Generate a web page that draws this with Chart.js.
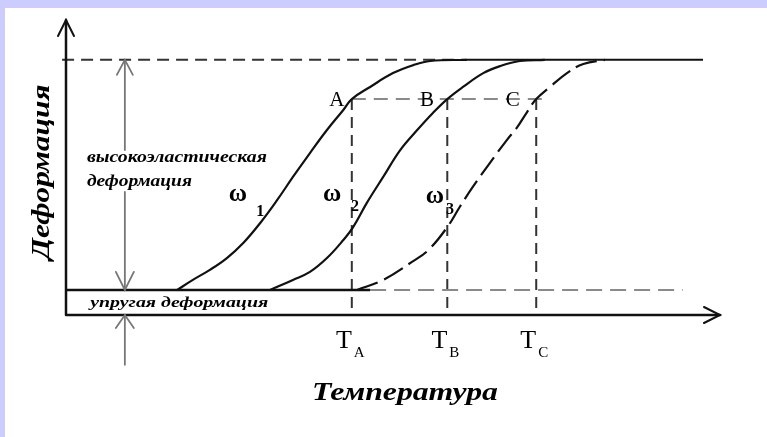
<!DOCTYPE html>
<html>
<head>
<meta charset="utf-8">
<title>Деформация — Температура</title>
<style>
  body { margin: 0; background: #ffffff; }
  .frame {
    width: 762px;
    height: 429px;
    border-top: 8px solid #ccccff;
    border-left: 5px solid #ccccff;
    background: #ffffff;
  }
  canvas { display: block; }
</style>
<script src="https://cdn.jsdelivr.net/npm/chart.js@4.4.1/dist/chart.umd.min.js"></script>
</head>
<body>
<div class="frame"><canvas id="chart" width="762" height="429"></canvas></div>
<script>
// deformation vs temperature, relative units (0..100 on both axes)
const w1T = [17.0, 19.4, 22.0, 24.6, 27.1, 29.7, 32.3, 34.7, 37.3, 39.9, 42.4, 43.7, 46.5, 50.0, 53.1, 55.7, 61.3];
const w1D = [8.5, 11.9, 15.3, 19.3, 24.4, 31.2, 39.0, 46.8, 54.9, 62.7, 69.5, 73.2, 77.3, 82.0, 84.7, 86.1, 86.5];

const w2T = [31.2, 34.7, 37.3, 39.9, 42.4, 43.9, 46.0, 48.5, 51.1, 53.7, 56.1, 58.3, 60.7, 63.8, 66.4, 69.4, 73.2];
const w2D = [8.5, 11.9, 14.6, 19.3, 25.4, 29.8, 38.0, 46.8, 55.9, 62.7, 68.5, 73.2, 77.3, 82.0, 84.4, 86.1, 86.5];

const w3T = [44.5, 48.5, 52.9, 55.4, 58.3, 60.2, 62.2, 64.8, 67.4, 69.0, 70.5, 71.9, 74.0, 76.6, 79.1, 82.4];
const w3D = [8.5, 11.9, 18.0, 22.0, 29.8, 36.6, 43.4, 51.5, 59.3, 63.7, 68.8, 73.2, 77.3, 82.0, 85.1, 86.5];

// levels: elastic part, high-elastic plateau, level of points A/B/C
const elasticLevel = 8.5;
const plateauLevel = 86.5;
const pointLevel = 73.2;

// temperatures T_A, T_B, T_C and their labels
const pointNames = ['A', 'B', 'C'];
const pointT = [43.7, 58.3, 71.9];
const pointLabelT = [41.4, 55.2, 68.3];

// curve labels ω1..ω3
const curveIdx = ['1', '2', '3'];
const curveLabelT = [26.3, 40.7, 56.4];
const curveLabelD = [40.7, 40.7, 40.0];
const curveSubT = [29.7, 44.2, 58.7];
const curveSubD = [34.9, 36.6, 35.6];

function pts(xs, ys) {
  return xs.map((x, i) => ({ x: x, y: ys[i] }));
}

function lineSet(data, color, dash, width) {
  return {
    data: data,
    showLine: true,
    borderColor: color,
    borderWidth: width || 2,
    borderDash: dash || [],
    pointRadius: 0,
    fill: false,
    clip: false
  };
}

function curveSet(xs, ys, dash) {
  const ds = lineSet(pts(xs, ys), '#111111', dash, 2.2);
  ds.tension = 0.4;
  return ds;
}

const datasets = [
  curveSet(w1T, w1D),
  curveSet(w2T, w2D),
  curveSet(w3T, w3D, [22, 7]),
  lineSet([{ x: -0.6, y: plateauLevel }, { x: w1T[w1T.length - 1], y: plateauLevel }], '#333333', [12, 7]),
  lineSet([{ x: w1T[w1T.length - 1], y: plateauLevel }, { x: 97.4, y: plateauLevel }], '#111111'),
  lineSet([{ x: 0, y: elasticLevel }, { x: 46.5, y: elasticLevel }], '#111111', [], 2.5),
  lineSet([{ x: 46.5, y: elasticLevel }, { x: 94.3, y: elasticLevel }], '#8a8a8a', [16, 8]),
  lineSet([{ x: pointT[0], y: pointLevel }, { x: 72.8, y: pointLevel }], '#8a8a8a', [14, 8])
];
pointT.forEach(t => {
  datasets.push(lineSet([{ x: t, y: pointLevel }, { x: t, y: 0 }], '#333333', [11, 7]));
});

// draws text stretched to a given width
function fitText(ctx, text, px, py, width, font, rotate) {
  ctx.save();
  ctx.translate(px, py);
  if (rotate) ctx.rotate(-Math.PI / 2);
  ctx.font = font;
  const m = ctx.measureText(text).width;
  ctx.scale(width / m, 1);
  ctx.fillText(text, rotate ? -m / 2 : 0, 0);
  ctx.restore();
}

function chevron(ctx, tx, ty, dx, dy, len, half) {
  // dx,dy: unit direction of the arrow
  const bx = tx - dx * len, by = ty - dy * len;
  ctx.beginPath();
  ctx.moveTo(bx - dy * half, by + dx * half);
  ctx.lineTo(tx, ty);
  ctx.lineTo(bx + dy * half, by - dx * half);
  ctx.stroke();
}

const decor = {
  id: 'decor',
  afterDatasetsDraw(chart) {
    const ctx = chart.ctx;
    const sx = chart.scales.x, sy = chart.scales.y;
    const X = v => sx.getPixelForValue(v);
    const Y = v => sy.getPixelForValue(v);

    // axes with arrows
    ctx.save();
    ctx.strokeStyle = '#111111';
    ctx.lineWidth = 2.5;
    ctx.lineCap = 'round';
    ctx.beginPath();
    ctx.moveTo(X(0), Y(0));
    ctx.lineTo(X(0), Y(100));
    ctx.moveTo(X(0), Y(0));
    ctx.lineTo(X(100), Y(0));
    ctx.stroke();
    ctx.lineWidth = 2;
    chevron(ctx, X(0), Y(100), 0, -1, 16, 8);
    chevron(ctx, X(100), Y(0), 1, 0, 16, 8);

    // double arrow: high-elastic deformation
    const ax = X(9.0);
    ctx.strokeStyle = '#777777';
    ctx.lineWidth = 1.8;
    ctx.beginPath();
    ctx.moveTo(ax, Y(plateauLevel));
    ctx.lineTo(ax, Y(55.9));
    ctx.moveTo(ax, Y(41.7));
    ctx.lineTo(ax, Y(elasticLevel));
    ctx.stroke();
    chevron(ctx, ax, Y(plateauLevel), 0, -1, 15, 8);
    chevron(ctx, ax, Y(elasticLevel), 0, 1, 18, 9);
    // arrow from below: elastic deformation
    ctx.beginPath();
    ctx.moveTo(ax, Y(0));
    ctx.lineTo(ax, Y(-16.9));
    ctx.stroke();
    chevron(ctx, ax, Y(0), 0, -1, 13, 9);
    ctx.restore();

    // axis titles
    ctx.save();
    ctx.fillStyle = '#000000';
    ctx.textBaseline = 'middle';
    ctx.textAlign = 'left';
    const bi = 'italic bold ';
    fitText(ctx, 'Деформация', X(-3.7), Y(48.5), 175, bi + '26px "Liberation Serif"', true);
    fitText(ctx, 'Температура', X(37.6), Y(-26.4), 186, bi + '26px "Liberation Serif"');

    fitText(ctx, 'высокоэластическая', X(3.2), Y(53.2), 180, bi + '17px "Liberation Serif"');
    fitText(ctx, 'деформация', X(3.2), Y(45.1), 105, bi + '17px "Liberation Serif"');
    fitText(ctx, 'упругая деформация', X(3.7), Y(4.1), 178, bi + '15px "Liberation Serif"');

    // A, B, C
    ctx.textAlign = 'center';
    ctx.font = '21px "Liberation Serif"';
    pointNames.forEach((n, i) => ctx.fillText(n, X(pointLabelT[i]), Y(pointLevel) + 1));

    // T_A, T_B, T_C under the axis
    ctx.textBaseline = 'alphabetic';
    pointNames.forEach((n, i) => {
      const px = X(pointT[i]);
      ctx.textAlign = 'right';
      ctx.font = '26px "Liberation Serif"';
      ctx.fillText('T', px, Y(-11.2));
      ctx.textAlign = 'left';
      ctx.font = '15px "Liberation Serif"';
      ctx.fillText(n, px + 2, Y(-14.2));
    });

    // ω labels
    ctx.textBaseline = 'middle';
    curveIdx.forEach((n, i) => {
      ctx.textAlign = 'center';
      ctx.font = 'bold 25px "Liberation Serif"';
      ctx.fillText('ω', X(curveLabelT[i]), Y(curveLabelD[i]));
      ctx.font = 'bold 16px "Liberation Serif"';
      ctx.fillText(n, X(curveSubT[i]), Y(curveSubD[i]));
    });
    ctx.restore();
  }
};

new Chart(document.getElementById('chart'), {
  type: 'scatter',
  data: { datasets: datasets },
  options: {
    responsive: false,
    animation: false,
    devicePixelRatio: 1,
    layout: { padding: { left: 61, right: 47, top: 12, bottom: 122 } },
    plugins: { legend: { display: false }, tooltip: { enabled: false } },
    scales: {
      x: { type: 'linear', min: 0, max: 100, display: false },
      y: { type: 'linear', min: 0, max: 100, display: false }
    }
  },
  plugins: [decor]
});
</script>
</body>
</html>
